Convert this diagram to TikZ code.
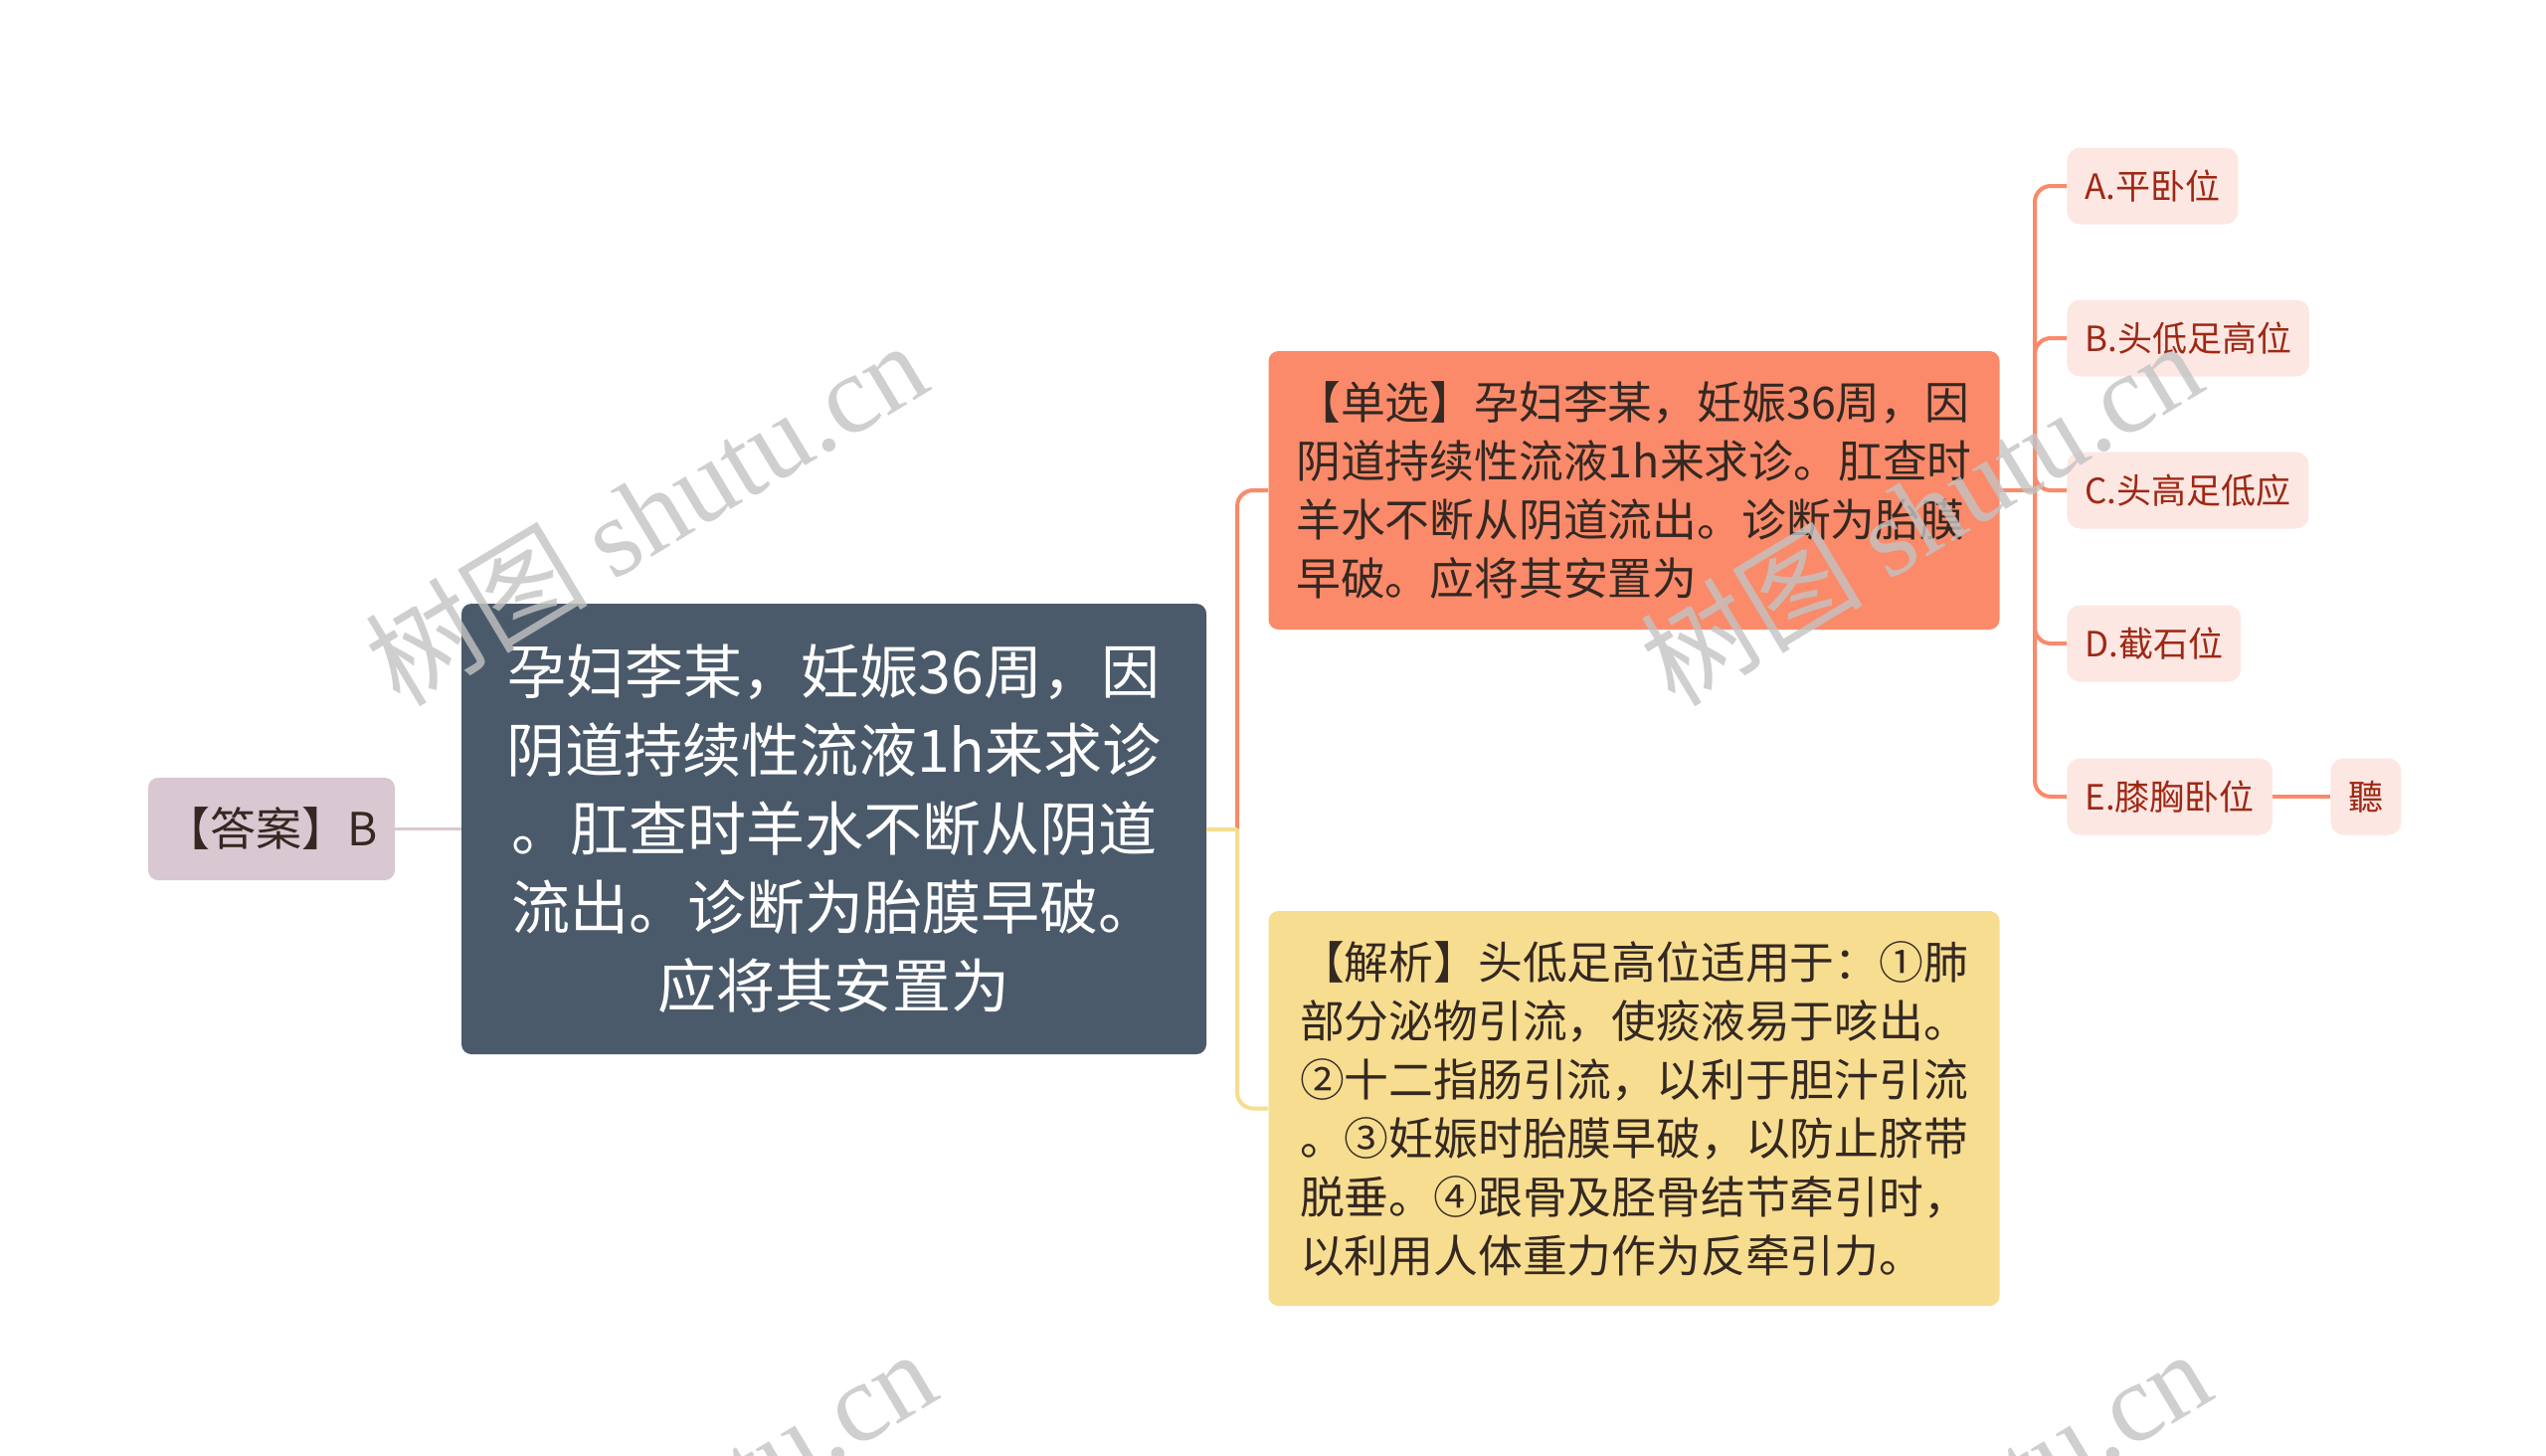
\documentclass[tikz,border=0pt]{standalone}
\usepackage{fontspec}
\setmainfont{Noto Sans CJK SC}
\newfontfamily\cjk{Noto Sans CJK SC}
\newfontfamily\wmlatin{Liberation Serif}
\definecolor{rootfill}{RGB}{74,90,106}
\definecolor{qfill}{RGB}{250,138,106}
\definecolor{afill}{RGB}{247,221,143}
\definecolor{ansfill}{RGB}{217,199,209}
\definecolor{optfill}{RGB}{253,231,226}
\definecolor{opttext}{RGB}{158,40,20}
\definecolor{darktext}{RGB}{52,40,34}
\definecolor{wmgray}{RGB}{195,195,195}
\tikzset{
  boxbase/.style={rounded corners=5pt, inner sep=0pt, draw=none},
  rootbox/.style={boxbase, fill=rootfill, text=white, align=center,
    minimum width=374.5pt, minimum height=226.5pt,
    font=\cjk\fontsize{29.5pt}{39.5pt}\selectfont},
  qbox/.style={boxbase, fill=qfill, text=darktext, align=left,
    minimum width=367.5pt, minimum height=140pt,
    font=\cjk\fontsize{22.4pt}{29.5pt}\selectfont},
  abox/.style={boxbase, fill=afill, text=darktext, align=left,
    minimum width=367.5pt, minimum height=198.5pt,
    font=\cjk\fontsize{22.4pt}{29.5pt}\selectfont},
  ansbox/.style={boxbase, fill=ansfill, text=darktext, align=center,
    minimum width=124pt, minimum height=51.5pt,
    font=\cjk\fontsize{23pt}{28pt}\selectfont},
  optbox/.style={rounded corners=6.5pt, fill=optfill, text=opttext,
    inner xsep=9pt, inner ysep=0pt, minimum height=38.5pt, anchor=west,
    font=\cjk\fontsize{17.5pt}{21pt}\selectfont},
  qline/.style={draw=qfill, line width=2pt},
  yline/.style={draw=afill, line width=2pt},
  ansline/.style={draw=ansfill, line width=1.6pt},
  wmark/.style={text=wmgray, text opacity=0.8, rotate=31, inner sep=0pt,
    font=\fontsize{56pt}{60pt}\selectfont}
}
\begin{document}
\begin{tikzpicture}[x=0.5pt,y=-0.5pt]
\useasboundingbox (0,0) rectangle (2560,1463);
\fill[white] (0,0) rectangle (2560,1463);

% nodes
\node[rootbox] (root) at (838.5,833.5) {孕妇李某，妊娠36周，因\\阴道持续性流液1h来求诊\\。肛查时羊水不断从阴道\\流出。诊断为胎膜早破。\\应将其安置为};
\node[ansbox] (ans) at (273,833.5) {【答案】B};
\node[qbox] (q) at (1643,493) {【单选】孕妇李某，妊娠36周，因\\阴道持续性流液1h来求诊。肛查时\\羊水不断从阴道流出。诊断为胎膜\\早破。应将其安置为};
\node[abox] (an) at (1643,1114.5) {【解析】头低足高位适用于：①肺\\部分泌物引流，使痰液易于咳出。\\②十二指肠引流，以利于胆汁引流\\。③妊娠时胎膜早破，以防止脐带\\脱垂。④跟骨及胫骨结节牵引时，\\以利用人体重力作为反牵引力。};
\node[optbox] (oa) at (2078,187) {A.平卧位};
\node[optbox] (ob) at (2078,340) {B.头低足高位};
\node[optbox] (oc) at (2078,493) {C.头高足低应};
\node[optbox] (od) at (2078,647) {D.截石位};
\node[optbox] (oe) at (2078,801) {E.膝胸卧位};
\node[optbox] (ot) at (2343,801) {聽};

% connectors
\coordinate (j1) at (1244,833.5);
\coordinate (j2) at (2046,493);
\draw[ansline] (ans.east) -- (root.west);
\draw[qline, rounded corners=8pt] (j1) |- (q.west);
\draw[yline, rounded corners=8pt] (j1) |- (an.west);
\draw[yline] (root.east) -- (j1);
\draw[qline] (q.east) -- (j2);
\foreach \o in {oa,ob,oc,od,oe}{
  \draw[qline, rounded corners=8pt] (j2) |- (\o.west);
}
\draw[qline] (oe.east) -- (ot.west);

% watermark
\begin{scope}
\clip (0,0) rectangle (2560,1463);
\node[wmark] (wm1) at (649,515) {树图 {\wmlatin shutu.cn}};
\node[wmark] (wm2) at (1931,515) {树图 {\wmlatin shutu.cn}};
\node[wmark] (wm3) at (658,1529) {树图 {\wmlatin shutu.cn}};
\node[wmark] (wm4) at (1940,1529) {树图 {\wmlatin shutu.cn}};
\end{scope}
\end{tikzpicture}
\end{document}
